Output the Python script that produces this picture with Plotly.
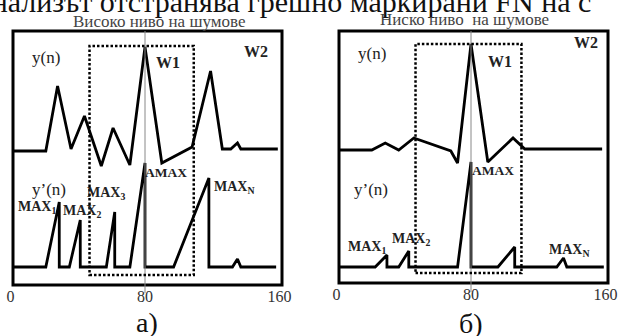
import plotly.graph_objects as go

W, H = 619, 336

# ---------------- data ----------------
tick_vals = [0, 80, 160]
tick_text = ["0", "80", "160"]

# panel а) – high noise level
a_yn_n = [1, 21, 28, 36, 44, 54, 61, 71, 80, 90, 108, 119, 126, 131, 135, 137, 159]
a_yn_val = [-1, -1, 64, 1, 34, -16, 22, -15, 103, -13, 3, 79, 1, 1, 7, 1, 1]
a_yd_n = [1, 21, 29, 29, 35, 41.5, 41.5, 57, 62, 62, 71, 80, 80, 97, 118, 118, 132, 135, 137, 158]
a_yd_val = [0, 0, 65, 0, 0, 47, 0, 0, 55, 0, 0, 104, 0, 0, 89, 0, 0, 8, 0, 0]
a_w1 = [47, 109]

# panel б) – low noise level
b_yn_n = [1, 21, 29, 37, 46, 68, 72, 80, 90, 105, 112, 158]
b_yn_val = [0, 0, 7, 0, 12, -1, -13, 106, -12, 12, 1, 1]
b_yd_n = [1, 23, 30, 30, 37, 43, 43, 72, 80, 80, 96, 106, 106, 131, 135, 137, 159]
b_yd_val = [0, 0, 12, 0, 0, 16, 0, 0, 105, 0, 0, 20, 0, 0, 9, 0, 0]
b_w1 = [47, 110]

amax_n = 80
yn_offset = 117  # vertical offset of y(n) above y'(n)

# ---------------- figure ----------------
SERIF = "Times New Roman, Liberation Serif, serif"
fig = go.Figure()

def px_x(x):
    return x / W

def px_y(y):
    return 1 - y / H

line_style = dict(color="black", width=2.8)
for xs, ys, xa, ya in [
    (a_yn_n, [v + yn_offset for v in a_yn_val], "x", "y"),
    (a_yd_n, a_yd_val, "x", "y"),
    (b_yn_n, [v + yn_offset for v in b_yn_val], "x2", "y2"),
    (b_yd_n, b_yd_val, "x2", "y2"),
]:
    fig.add_trace(go.Scatter(x=xs, y=ys, xaxis=xa, yaxis=ya, mode="lines",
                             line=line_style, showlegend=False, hoverinfo="skip"))

axis_common = dict(range=[0, 160], showgrid=False, zeroline=False, showline=False,
                   tickvals=tick_vals, ticktext=tick_text, ticks="",
                   tickfont=dict(family=SERIF, size=16, color="#333"))
fig.update_layout(
    width=W, height=H,
    margin=dict(l=0, r=0, t=0, b=0, autoexpand=False),
    paper_bgcolor="white", plot_bgcolor="rgba(0,0,0,0)",
    xaxis=dict(domain=[10.5 / W, 279.5 / W], anchor="y", **axis_common),
    yaxis=dict(domain=[px_y(285), px_y(31)], range=[-18, 236], visible=False),
    xaxis2=dict(domain=[336.5 / W, 605.5 / W], anchor="y2", **axis_common),
    yaxis2=dict(domain=[px_y(283), px_y(31)], range=[-16, 236], visible=False),
)

shapes = []
# outer frames
for x0, x1, y0, y1 in [(13, 282, 31, 285), (339, 608, 31, 283)]:
    shapes.append(dict(type="rect", xref="paper", yref="paper",
                       x0=px_x(x0), x1=px_x(x1), y0=px_y(y1), y1=px_y(y0),
                       line=dict(color="black", width=3)))
# vertical line at n = 80
for xr, ybot in [("x", 293), ("x2", 292)]:
    shapes.append(dict(type="line", xref=xr, yref="paper", x0=amax_n, x1=amax_n,
                       y0=px_y(ybot), y1=px_y(31), line=dict(color="#888", width=1)))
# dotted W1 windows
for xr, w, yt, yb in [("x", a_w1, 46, 275), ("x2", b_w1, 44, 273)]:
    shapes.append(dict(type="rect", xref=xr, yref="paper", x0=w[0], x1=w[1],
                       y0=px_y(yb), y1=px_y(yt),
                       line=dict(color="black", width=2.5, dash="2.5px,2px")))
fig.update_layout(shapes=shapes)

def label(text, x, y, size=13, color="#222", xanchor="center"):
    fig.add_annotation(text=text, x=px_x(x), y=px_y(y), xref="paper", yref="paper",
                       xanchor=xanchor, yanchor="middle", showarrow=False,
                       font=dict(family=SERIF, size=size, color=color))

# top cut-off line of the surrounding text
label("Анализът отстранява грешно маркирани FN на с", -32, 2, size=30,
      color="#111", xanchor="left")
# subtitles
label("Високо ниво на шумове", 159, 21, size=17, color="#444")
label("Ниско ниво\u00a0 на шумове", 464, 19, size=17, color="#444")

# panel а) labels
label("y(n)", 46, 57, size=17)
label("<b>W1</b>", 168, 62, size=16)
label("<b>W2</b>", 256, 51, size=16)
label("<b>AMAX</b>", 166, 172, size=13.5)
label("y’(n)", 49, 189, size=17)
label("<b>MAX<sub>1</sub></b>", 37, 207, size=14)
label("<b>MAX<sub>2</sub></b>", 82, 211, size=14)
label("<b>MAX<sub>3</sub></b>", 106, 193, size=14)
label("<b>MAX<sub>N</sub></b>", 234, 187, size=14)

# panel б) labels
label("y(n)", 372, 53, size=17)
label("<b>W1</b>", 500, 61, size=16)
label("<b>W2</b>", 586, 42, size=16)
label("<b>AMAX</b>", 493, 170, size=13.5)
label("y’(n)", 371, 189, size=17)
label("<b>MAX<sub>1</sub></b>", 367, 247, size=14)
label("<b>MAX<sub>2</sub></b>", 411, 239, size=14)
label("<b>MAX<sub>N</sub></b>", 569, 250, size=14)

# captions
label("а)", 147, 322, size=28, color="#111")
label("б)", 471, 323, size=28, color="#111")

fig.write_html("out.html", config={"displayModeBar": False},
               post_script="document.body.style.margin='0px';")
